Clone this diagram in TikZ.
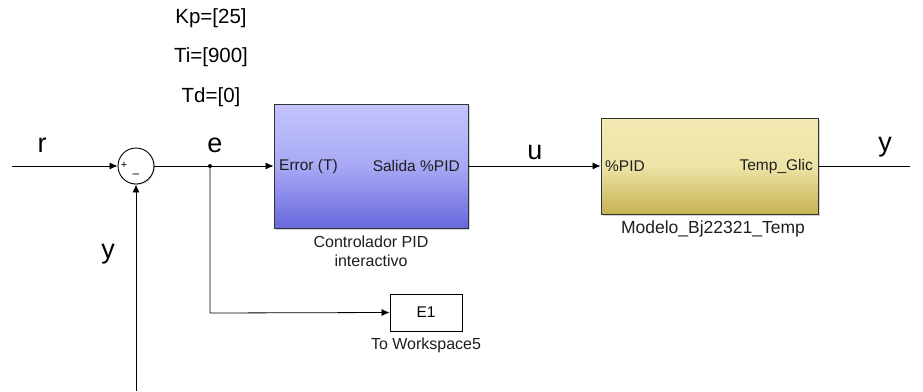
\documentclass[tikz,border=0pt]{standalone}
\usepackage{fontspec}
\setmainfont{Liberation Sans}
\usetikzlibrary{arrows.meta,shadows}
\definecolor{pidtop}{RGB}{196,196,255}
\definecolor{pidbot}{RGB}{104,104,222}
\definecolor{modtop}{RGB}{242,234,178}
\definecolor{modbot}{RGB}{198,178,82}
\definecolor{txtgray}{RGB}{30,30,30}
\tikzset{
  sig/.style={draw=black, line width=0.8pt, -{Latex[length=8pt,width=7pt]}},
  wire/.style={draw=black, line width=0.8pt},
  blk/.style={draw=black!80, line width=0.9pt, inner sep=0pt, drop shadow={shadow xshift=1.5pt, shadow yshift=-1.5pt, opacity=0.35}},
  big/.style={font=\fontsize{27}{30}\selectfont, inner sep=0pt},
  port/.style={font=\fontsize{15.5}{17}\selectfont, inner sep=0pt, text=txtgray},
  blkcap/.style={font=\fontsize{16}{19}\selectfont, inner sep=0pt, text=txtgray, align=center},
  par/.style={font=\fontsize{20.5}{23}\selectfont, inner sep=0pt},
}
\begin{document}
\begin{tikzpicture}[x=1pt,y=-1pt]
\useasboundingbox (0,0) rectangle (923,391);
% parameters
\node[par] (kp) at (211,18) {Kp=[25]};
\node[par] (ti) at (211,57) {Ti=[900]};
\node[par] (td) at (211,97) {Td=[0]};
% sum
\node[draw=black, line width=0.9pt, circle, minimum size=36pt, inner sep=0pt, fill=white, drop shadow={shadow xshift=1pt, shadow yshift=-1pt, opacity=0.3}] (sum) at (136,166) {};
\node[font=\fontsize{11}{12}\selectfont, inner sep=0pt] (plus) at (124,165) {+};
\node[font=\fontsize{12}{12}\selectfont, inner sep=0pt] (minus) at (136,176) {--};
% PID block
\node[blk, minimum width=194pt, minimum height=124pt, top color=pidtop, bottom color=pidbot, middle color=pidtop!70!pidbot] (pid) at (371,166) {};
\node[port, anchor=west] (perr) at (279,166) {Error (T)};
\node[port, anchor=east] (pout) at (460,166) {Salida \%PID};
\node[blkcap] (pidcap) at (371,251) {Controlador PID\\interactivo};
% Model block
\node[blk, minimum width=217pt, minimum height=96pt, top color=modtop, bottom color=modbot, middle color=modtop!88!modbot] (mod) at (709.5,166) {};
\node[port, anchor=west] (min) at (605,166) {\%PID};
\node[port, anchor=east] (mout) at (813,166) {Temp\_Glic};
\node[blkcap, font=\fontsize{17.5}{19}\selectfont] (modcap) at (713,229) {Modelo\_Bj22321\_Temp};
% To workspace
\node[draw=black, line width=0.9pt, fill=white, minimum width=72pt, minimum height=37pt, inner sep=0pt, drop shadow={shadow xshift=1pt, shadow yshift=-1pt, opacity=0.3}] (ws) at (426,312.5) {};
\node[port, text=black] (wslab) at (426,312) {E1};
\node[blkcap] (wscap) at (426,345) {To Workspace5};
% coordinates
\coordinate (rin) at (12,166);
\coordinate (yout) at (910,166);
\coordinate (fb) at (136,391);
\coordinate (jn) at (210,166);
\coordinate (jdown) at (210,313);
% wires
\draw[sig] (rin) -- (sum.west);
\draw[sig] (sum.east) -- (pid.west);
\draw[sig] (pid.east) -- (mod.west);
\draw[wire] (mod.east) -- (yout);
\draw[sig] (fb) -- (sum.south);
\draw[sig] (jn) -- (jdown) -- (ws.west);
\fill (jn) circle (2pt);
% labels
\node[big] (lr) at (42,145) {r};
\node[big] (le) at (215,145) {e};
\node[big] (lu) at (535,152) {u};
\node[big] (ly1) at (885,147) {y};
\node[big] (ly2) at (108,254) {y};
\end{tikzpicture}
\end{document}
